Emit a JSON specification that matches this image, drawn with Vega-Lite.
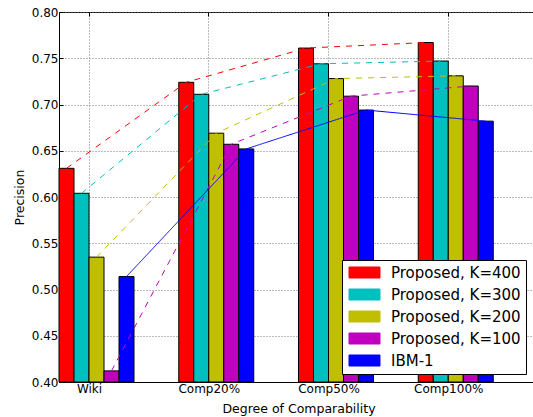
{
  "$schema": "https://vega.github.io/schema/vega-lite/v6.json",
  "autosize": "none",
  "width": 479,
  "height": 370,
  "padding": {"left": 59, "top": 12, "right": 0, "bottom": 35},
  "background": "white",
  "config": {
    "font": "DejaVu Sans",
    "view": {"stroke": "black", "strokeWidth": 1},
    "axis": {
      "domainColor": "black",
      "tickColor": "black",
      "labelColor": "black",
      "titleColor": "black",
      "labelFont": "DejaVu Sans",
      "titleFont": "DejaVu Sans",
      "labelFontSize": 12,
      "titleFontSize": 12.5,
      "titleFontWeight": "normal",
      "gridColor": "#777",
      "gridDash": [1, 2],
      "gridWidth": 1,
      "gridOpacity": 1,
      "tickSize": -4
    }
  },
  "data": {
    "values": [
      {"cat": "Wiki", "series": "Proposed, K=400", "value": 0.631},
      {"cat": "Wiki", "series": "Proposed, K=300", "value": 0.604},
      {"cat": "Wiki", "series": "Proposed, K=200", "value": 0.535},
      {"cat": "Wiki", "series": "Proposed, K=100", "value": 0.412},
      {"cat": "Wiki", "series": "IBM-1", "value": 0.514},
      {"cat": "Comp20%", "series": "Proposed, K=400", "value": 0.724},
      {"cat": "Comp20%", "series": "Proposed, K=300", "value": 0.711},
      {"cat": "Comp20%", "series": "Proposed, K=200", "value": 0.669},
      {"cat": "Comp20%", "series": "Proposed, K=100", "value": 0.657},
      {"cat": "Comp20%", "series": "IBM-1", "value": 0.652},
      {"cat": "Comp50%", "series": "Proposed, K=400", "value": 0.761},
      {"cat": "Comp50%", "series": "Proposed, K=300", "value": 0.744},
      {"cat": "Comp50%", "series": "Proposed, K=200", "value": 0.728},
      {"cat": "Comp50%", "series": "Proposed, K=100", "value": 0.709},
      {"cat": "Comp50%", "series": "IBM-1", "value": 0.694},
      {"cat": "Comp100%", "series": "Proposed, K=400", "value": 0.767},
      {"cat": "Comp100%", "series": "Proposed, K=300", "value": 0.747},
      {"cat": "Comp100%", "series": "Proposed, K=200", "value": 0.731},
      {"cat": "Comp100%", "series": "Proposed, K=100", "value": 0.72},
      {"cat": "Comp100%", "series": "IBM-1", "value": 0.682}
    ]
  },
  "resolve": {"axis": {"x": "independent"}},
  "encoding": {
    "xOffset": {
      "field": "series",
      "type": "nominal",
      "sort": ["Proposed, K=400", "Proposed, K=300", "Proposed, K=200", "Proposed, K=100", "IBM-1"],
      "scale": {"paddingInner": 0, "paddingOuter": 0}
    },
    "y": {
      "field": "value",
      "type": "quantitative",
      "scale": {"domain": [0.4, 0.8], "zero": false, "nice": false},
      "axis": {
        "title": "Precision",
        "values": [0.4, 0.45, 0.5, 0.55, 0.6, 0.65, 0.7, 0.75, 0.8],
        "format": ".2f",
        "grid": true,
        "labelPadding": 5,
        "titlePadding": 5
      }
    }
  },
  "layer": [
    {
      "mark": {"type": "bar", "stroke": "black", "strokeWidth": 1, "opacity": 1},
      "encoding": {
        "x": {
          "field": "cat",
          "type": "nominal",
          "sort": ["Wiki", "Comp20%", "Comp50%", "Comp100%"],
          "scale": {"paddingInner": 0.3737, "paddingOuter": 0.1868, "align": 0},
          "axis": {
            "title": "Degree of Comparability",
            "labelAngle": 0,
            "bandPosition": 0.4,
            "labelOffset": -7,
            "grid": true,
            "labelPadding": 5,
            "titlePadding": 8
          }
        },
        "y2": {"datum": 0.4},
        "fill": {
          "field": "series",
          "type": "nominal",
          "sort": ["Proposed, K=400", "Proposed, K=300", "Proposed, K=200", "Proposed, K=100", "IBM-1"],
          "scale": {
            "domain": ["Proposed, K=400", "Proposed, K=300", "Proposed, K=200", "Proposed, K=100", "IBM-1"],
            "range": ["#ff0000", "#00bfbf", "#bfbf00", "#bf00bf", "#0000ff"]
          },
          "legend": {
            "title": null,
            "orient": "none",
            "legendX": 283,
            "legendY": 248,
            "padding": 5,
            "strokeColor": "black",
            "fillColor": "white",
            "cornerRadius": 0,
            "labelFont": "DejaVu Sans",
            "labelFontSize": 15,
            "labelColor": "black",
            "labelOffset": 19,
            "symbolType": "M-2.818,-1L2.818,-1L2.818,1L-2.818,1Z",
            "symbolSize": 121,
            "symbolOffset": 10,
            "symbolStrokeColor": "black",
            "symbolStrokeWidth": 1,
            "symbolOpacity": 1,
            "rowPadding": 6
          }
        }
      }
    },
    {
      "mark": {"type": "line", "strokeWidth": 1},
      "encoding": {
        "x": {
          "field": "cat",
          "type": "nominal",
          "sort": ["Wiki", "Comp20%", "Comp50%", "Comp100%"],
          "bandPosition": 0,
          "axis": {
            "orient": "top",
            "title": null,
            "labels": false,
            "domain": false,
            "grid": false,
            "ticks": true,
            "bandPosition": 0.4
          }
        },
        "xOffset": {
          "field": "series",
          "type": "nominal",
          "sort": ["Proposed, K=400", "Proposed, K=300", "Proposed, K=200", "Proposed, K=100", "IBM-1"],
          "bandPosition": 0
        },
        "order": {"value": null},
        "stroke": {
          "field": "series",
          "type": "nominal",
          "scale": {
            "domain": ["Proposed, K=400", "Proposed, K=300", "Proposed, K=200", "Proposed, K=100", "IBM-1"],
            "range": ["#ff0000", "#00bfbf", "#bfbf00", "#bf00bf", "#0000ff"]
          },
          "legend": null
        },
        "strokeDash": {
          "condition": {"test": "datum.series === 'IBM-1'", "value": [1, 0]},
          "value": [6, 6]
        }
      }
    }
  ]
}
